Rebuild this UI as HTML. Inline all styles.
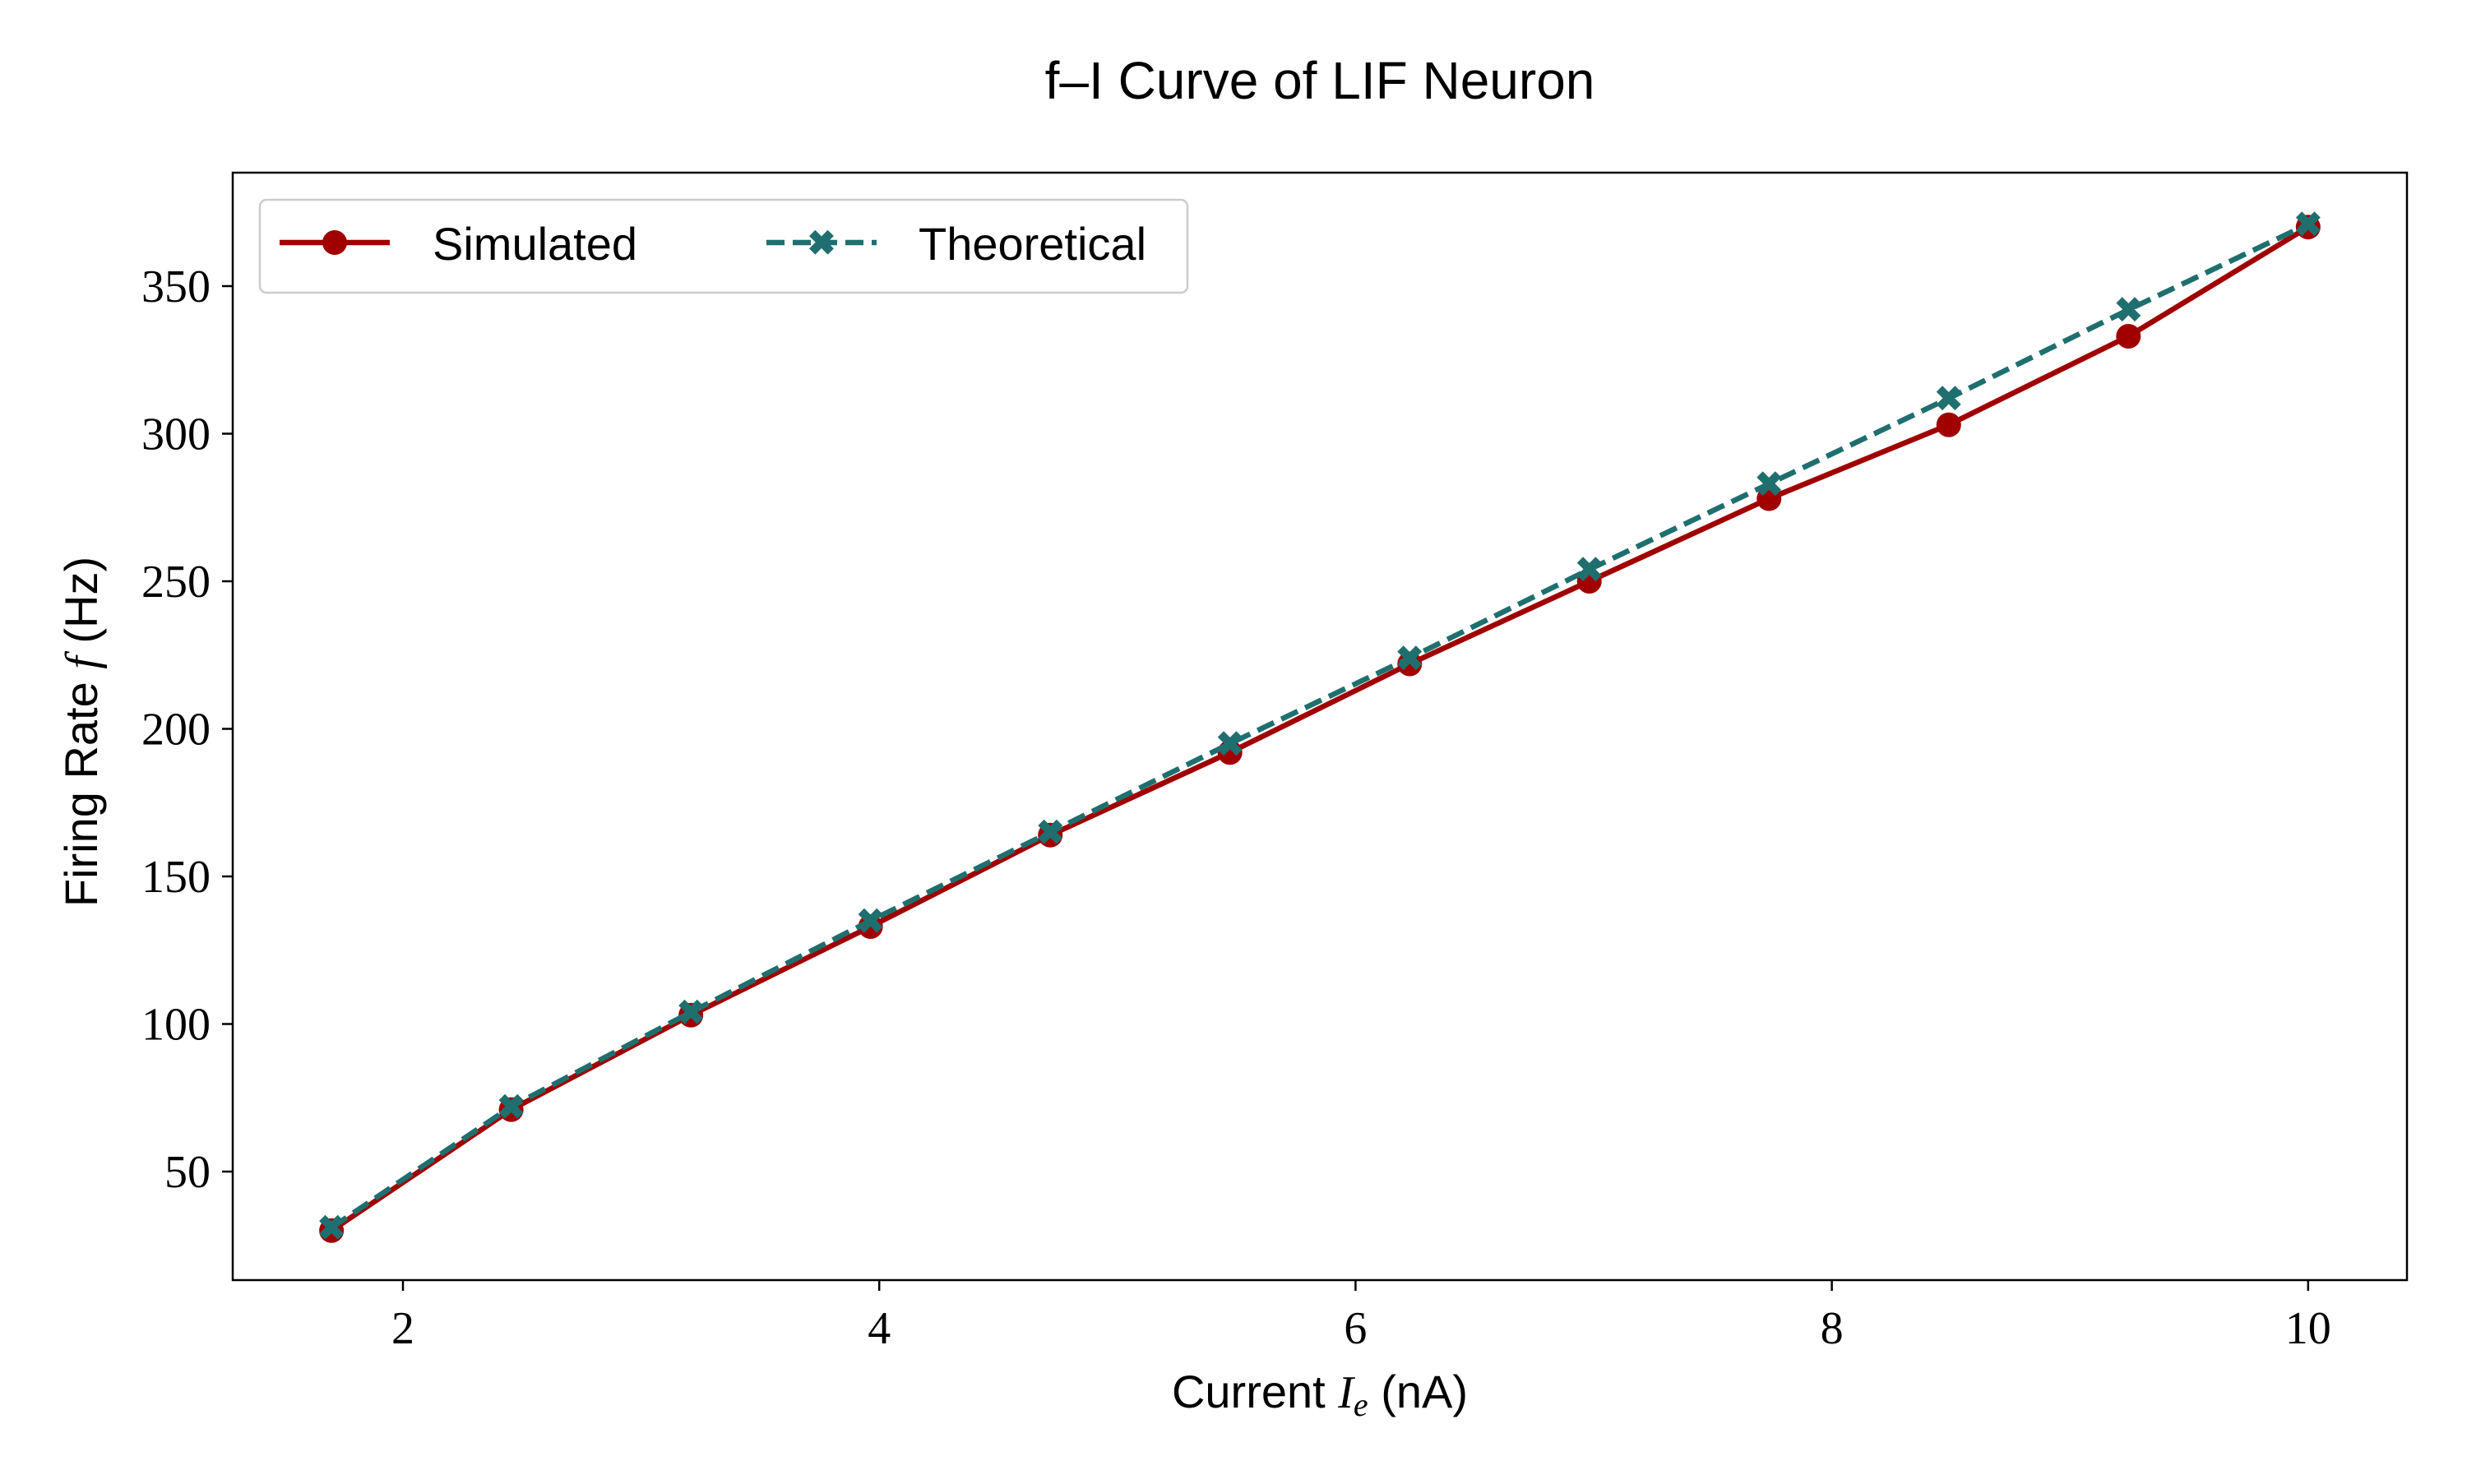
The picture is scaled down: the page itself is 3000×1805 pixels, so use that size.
<!DOCTYPE html>
<html><head><meta charset="utf-8"><style>
body{margin:0;background:#fff;}
svg text{font-family:"Liberation Sans",sans-serif;}
.tick{font-family:"Liberation Serif",serif;font-size:56px;}
</style></head><body>
<svg id="chart" width="3000" height="1800" xmlns="http://www.w3.org/2000/svg">
<rect width="3000" height="1800" fill="#fff"/>
<text x="1605" y="120" font-size="64" text-anchor="middle">f–I Curve of LIF Neuron</text>
<g id="axes"></g>
<g id="series"></g>
<rect x="283" y="210" width="2644" height="1347" fill="none" stroke="#000" stroke-width="2.5"/>
<text x="1605" y="1712" font-size="56" text-anchor="middle">Current <tspan font-family="Liberation Serif" font-style="italic">I<tspan font-size="40" dy="10">e</tspan></tspan><tspan dy="-10"> (nA)</tspan></text>
<text transform="translate(118,890) rotate(-90)" font-size="56" text-anchor="middle">Firing Rate <tspan font-family="Liberation Serif" font-style="italic">f</tspan> (Hz)</text>
<g>
<rect x="316" y="243" width="1128" height="113" rx="8" fill="#fff" stroke="#ccc" stroke-width="2.5"/>
<line x1="340" y1="295" x2="474" y2="295" stroke="#a00000" stroke-width="6.5"/>
<circle cx="407" cy="295" r="15" fill="#a00000"/>
<text x="526" y="316" font-size="56">Simulated</text>
<line x1="932" y1="295" x2="1066" y2="295" stroke="#1f6f6f" stroke-width="6.5" stroke-dasharray="22,10"/>
<text x="999" y="310" font-size="42" font-weight="bold" fill="#1f6f6f" text-anchor="middle">✖</text>
<text x="1117" y="316" font-size="56">Theoretical</text>
</g>
</svg>
<script>
const currents=[1.7,2.4545,3.2091,3.9636,4.7182,5.4727,6.2273,6.9818,7.7364,8.4909,9.2455,10];
const simulated=[30,71,103,133,164,192,222,250,278,303,333,370];
const theoretical=[31,72,104,135,165,195,224,254,283,312,342,371];
const xTicks=[2,4,6,8,10];
const yTicks=[50,100,150,200,250,300,350];
const NS="http://www.w3.org/2000/svg";
const xs=v=>490+(v-2)*289.6;
const ys=v=>1425-(v-50)*(1077/300);
const ax=document.getElementById('axes'),se=document.getElementById('series');
function mk(t,a,p){const e=document.createElementNS(NS,t);for(const k in a)e.setAttribute(k,a[k]);p.appendChild(e);return e;}
xTicks.forEach(t=>{
 const l=mk('line',{x1:xs(t),x2:xs(t),y1:1557,y2:1570,stroke:'#000','stroke-width':2.5},ax);
 
 
 const tx=mk('text',{x:xs(t),y:1634,'text-anchor':'middle',class:'tick'},ax);tx.textContent=t;
 
 
});
yTicks.forEach(t=>{
 const l=mk('line',{x1:270,x2:283,y1:ys(t),y2:ys(t),stroke:'#000','stroke-width':2.5},ax);
 
 
 const tx=mk('text',{x:256,y:ys(t)+19,'text-anchor':'end',class:'tick'},ax);tx.textContent=t;
 
 
});
const sp=currents.map((c,i)=>xs(c)+','+ys(simulated[i])).join(' ');
const tp=currents.map((c,i)=>xs(c)+','+ys(theoretical[i])).join(' ');
const l1=mk('polyline',{points:sp,fill:'none',stroke:'#a00000','stroke-width':6.5},se);


currents.forEach((c,i)=>{const m=mk('circle',{cx:xs(c),cy:ys(simulated[i]),r:15,fill:'#a00000'},se);
 
 });
const l2=mk('polyline',{points:tp,fill:'none',stroke:'#1f6f6f','stroke-width':6.5,'stroke-dasharray':'22,10'},se);


currents.forEach((c,i)=>{const m=mk('text',{x:xs(c),y:ys(theoretical[i])+15,'font-size':42,'font-weight':'bold',fill:'#1f6f6f','text-anchor':'middle'},se);m.textContent='✖';
 
 });
</script>
</body></html>
